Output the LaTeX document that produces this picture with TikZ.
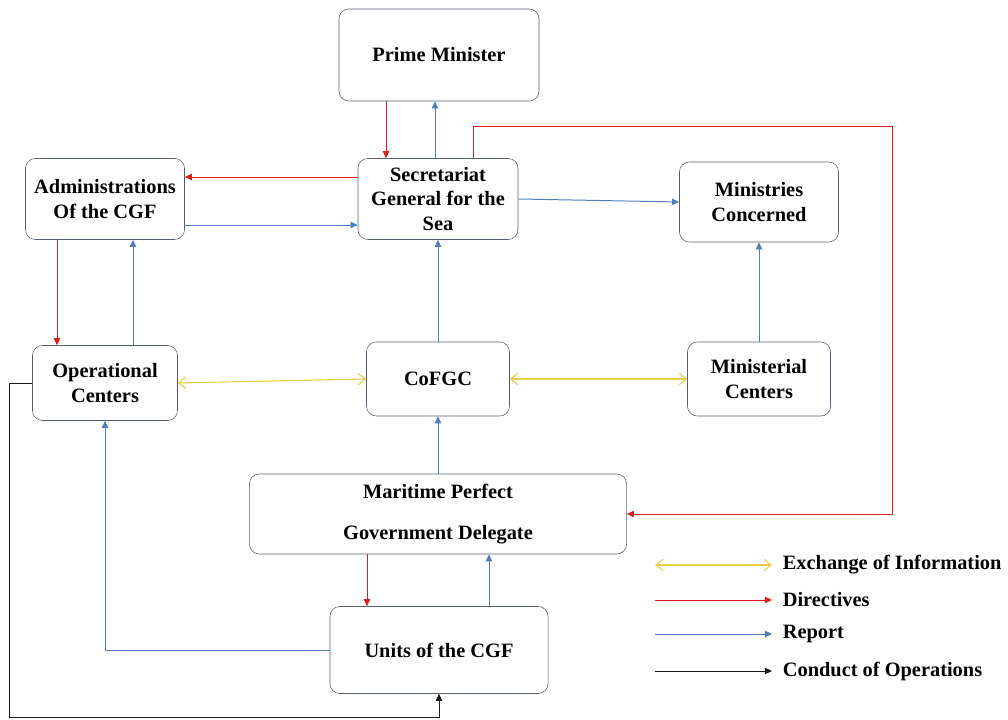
\documentclass[tikz,border=0pt]{standalone}
\usepackage{fontspec}
\setmainfont{Liberation Serif}
\usepackage{xcolor}
\usetikzlibrary{arrows.meta, positioning, calc}

\definecolor{dirred}{RGB}{222,30,30}
\definecolor{repblue}{RGB}{80,125,190}
\definecolor{infoyel}{RGB}{235,205,70}
\definecolor{boxline}{RGB}{85,95,115}

\begin{document}
\begin{tikzpicture}[
    x=0.025cm, y=-0.025cm,
    box/.style={draw=boxline, rounded corners=7pt, align=center, inner sep=1pt,
                font=\fontsize{14.5}{17.5}\selectfont\bfseries, fill=white},
    directive/.style={-{Triangle[length=5pt,width=4.5pt]}, dirred, line width=0.7pt},
    report/.style={-{Triangle[length=5pt,width=4.5pt]}, repblue, line width=0.7pt},
    exchange/.style={{Straight Barb[length=5pt,width=8pt]}-{Straight Barb[length=5pt,width=8pt]}, infoyel, line width=0.8pt},
    conduct/.style={-{Triangle[length=5pt,width=4.5pt]}, black!90, line width=0.7pt},
    legtext/.style={font=\fontsize{14.5}{16}\selectfont\bfseries, anchor=west, inner xsep=7.5pt, inner ysep=3pt},
]
\useasboundingbox (0,0) rectangle (1008,720);

% Boxes
\node[box, minimum width=5cm, minimum height=2.3cm] (pm) at (439,55) {Prime Minister};
\node[box, minimum width=4cm, minimum height=2.025cm] (sg) at (438,199) {Secretariat\\General for the\\Sea};
\node[box, minimum width=3.975cm, minimum height=2.025cm] (adm) at (105,199) {Administrations\\Of the CGF};
\node[box, minimum width=3.975cm, minimum height=2cm] (min) at (759,202) {Ministries\\Concerned};
\node[box, minimum width=3.625cm, minimum height=1.875cm] (opc) at (105,383) {Operational\\Centers};
\node[box, minimum width=3.575cm, minimum height=1.85cm] (cof) at (438,379) {CoFGC};
\node[box, minimum width=3.575cm, minimum height=1.85cm] (mcen) at (759,379) {Ministerial\\Centers};
\node[box, minimum width=9.425cm, minimum height=2cm] (mar) at (438,514) {Maritime Perfect\\[12pt]Government Delegate};
\node[box, minimum width=5.45cm, minimum height=2.175cm] (units) at (439,650) {Units of the CGF};

% Directives
\draw[directive] ($(pm.south)+(-53,0)$) -- ($(sg.north)+(-52,0)$);
\draw[directive] ($(sg.west)+(0,-22)$) -- ($(adm.east)+(0,-22)$);
\draw[directive] ($(adm.south)+(-48,0)$) -- ($(opc.north)+(-48,0)$);
\draw[directive] ($(sg.north)+(35,0)$) -- ++(0,-32) -| ($(mar.east)+(266,0)$) -- (mar.east);
\draw[directive] ($(mar.south)+(-71,0)$) -- ($(units.north)+(-72,0)$);

% Reports
\draw[report] ($(sg.north)+(-3,0)$) -- ($(pm.south)+(-4,0)$);
\draw[report] ($(adm.east)+(0,26)$) -- ($(sg.west)+(0,26)$);
\draw[report] (sg.east) -- (min.west);
\draw[report] ($(opc.north)+(28,0)$) -- ($(adm.south)+(28,0)$);
\draw[report] (cof.north) -- (sg.south);
\draw[report] (mcen.north) -- (min.south);
\draw[report] (mar.north) -- (cof.south);
\draw[report] ($(units.north)+(50,0)$) -- ($(mar.south)+(51,0)$);
\draw[report] (units.west) -| (opc.south);

% Exchange of information
\draw[exchange] (opc.east) -- (cof.west);
\draw[exchange] (cof.east) -- (mcen.west);

% Conduct of operations
\draw[conduct] (opc.west) -- ++(-23,0) |- ($(units.south)+(0,24)$) -- (units.south);

% Legend
\node[legtext] (lgex) at (772,565) {Exchange of Information};
\node[legtext] (lgdir) at (772,600) {Directives};
\node[legtext] (lgrep) at (772,634) {Report};
\node[legtext] (lgcon) at (772,671) {Conduct of Operations};
\coordinate (exs) at (655,565);
\coordinate (dirs) at (655,600);
\coordinate (reps) at (655,634);
\coordinate (cons) at (655,671);
\draw[exchange] (exs) -- (lgex.west);
\draw[directive] (dirs) -- (lgdir.west);
\draw[report] (reps) -- (lgrep.west);
\draw[conduct] (cons) -- (lgcon.west);
\end{tikzpicture}
\end{document}
